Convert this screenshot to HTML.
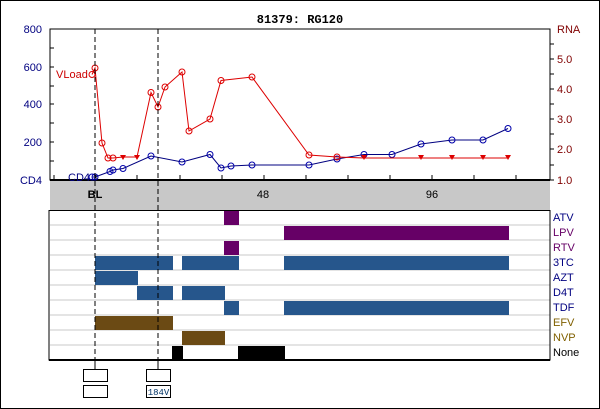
<!DOCTYPE html><html><head><style>body{margin:0;background:#fff}svg{display:block}</style></head><body>
<svg width="600" height="409" viewBox="0 0 600 409" xmlns="http://www.w3.org/2000/svg" font-family="Liberation Sans, sans-serif" font-size="11">
<rect x="0.5" y="0.5" width="599" height="408" fill="#fff" stroke="#000"/>
<text x="300" y="23" text-anchor="middle" font-family="Liberation Mono, monospace" font-weight="bold" font-size="12">81379: RG120</text>
<rect x="50" y="29" width="500" height="151" fill="#fff" stroke="#000"/>
<rect x="50" y="181" width="500" height="29" fill="#c8c8c8"/>
<line x1="50" y1="180" x2="550" y2="180" stroke="#000" stroke-width="2"/>
<g stroke="#000">
<line x1="54" y1="180" x2="54" y2="175"/><line x1="96" y1="180" x2="96" y2="175"/><line x1="137" y1="180" x2="137" y2="175"/><line x1="180" y1="180" x2="180" y2="175"/><line x1="222" y1="180" x2="222" y2="175"/><line x1="264" y1="180" x2="264" y2="175"/><line x1="306" y1="180" x2="306" y2="175"/><line x1="348" y1="180" x2="348" y2="175"/><line x1="390" y1="180" x2="390" y2="175"/><line x1="432" y1="180" x2="432" y2="175"/><line x1="474" y1="180" x2="474" y2="175"/><line x1="516" y1="180" x2="516" y2="175"/>
<line x1="50" y1="48" x2="54" y2="48"/><line x1="50" y1="67" x2="54" y2="67"/><line x1="50" y1="86" x2="54" y2="86"/><line x1="50" y1="104" x2="54" y2="104"/><line x1="50" y1="123" x2="54" y2="123"/><line x1="50" y1="142" x2="54" y2="142"/><line x1="50" y1="161" x2="54" y2="161"/>
<line x1="550" y1="44" x2="554" y2="44"/><line x1="550" y1="59" x2="554" y2="59"/><line x1="550" y1="74" x2="554" y2="74"/><line x1="550" y1="89" x2="554" y2="89"/><line x1="550" y1="104" x2="554" y2="104"/><line x1="550" y1="119" x2="554" y2="119"/><line x1="550" y1="134" x2="554" y2="134"/><line x1="550" y1="149" x2="554" y2="149"/><line x1="550" y1="165" x2="554" y2="165"/><line x1="550" y1="180" x2="554" y2="180"/>
</g>
<g fill="#000080" text-anchor="end">
<text x="42" y="33">800</text><text x="42" y="71">600</text><text x="42" y="108">400</text><text x="42" y="146">200</text><text x="42" y="184">CD4</text>
</g>
<g fill="#800000">
<text x="557" y="33">RNA</text><text x="557" y="63">5.0</text><text x="557" y="93">4.0</text><text x="557" y="123">3.0</text><text x="557" y="153">2.0</text><text x="557" y="184">1.0</text>
</g>
<text x="95" y="198" text-anchor="middle" font-weight="bold">BL</text>
<text x="263" y="198" text-anchor="middle">48</text>
<text x="432" y="198" text-anchor="middle">96</text>
<text x="56" y="78" fill="#cc0000" font-size="11">VLoad</text>
<text x="68" y="181" fill="#000080" font-size="11">CD4</text>
<polyline fill="none" stroke="#000080" points="92,177 95,177 110,171.5 113,170 123,168.5 151,156 182,162 210,154.5 221,168 231,166 252,165 309,165 337,159 364,154.5 392,154.5 421,144 452,140 483,140 508,128.5"/>
<g fill="none" stroke="#0000aa">
<circle cx="92" cy="177" r="3"/><circle cx="95" cy="177" r="3"/><circle cx="110" cy="171.5" r="3"/><circle cx="113" cy="170" r="3"/><circle cx="123" cy="168.5" r="3"/><circle cx="151" cy="156" r="3"/><circle cx="182" cy="162" r="3"/><circle cx="210" cy="154.5" r="3"/><circle cx="221" cy="168" r="3"/><circle cx="231" cy="166" r="3"/><circle cx="252" cy="165" r="3"/><circle cx="309" cy="165" r="3"/><circle cx="337" cy="159" r="3"/><circle cx="364" cy="154.5" r="3"/><circle cx="392" cy="154.5" r="3"/><circle cx="421" cy="144" r="3"/><circle cx="452" cy="140" r="3"/><circle cx="483" cy="140" r="3"/><circle cx="508" cy="128.5" r="3"/>
</g>
<polyline fill="none" stroke="#dd0000" points="92,74.5 95,68 102,143 108,158 113,158 123,157 137,157 151,92.5 158,107 165,87 182,72 189,131 210,119 221,80.5 252,77 309,155 337,157 364,158 421,158 452,158 483,158 508,158"/>
<g fill="none" stroke="#dd0000">
<circle cx="92" cy="74.5" r="3"/><circle cx="95" cy="68" r="3"/><circle cx="102" cy="143" r="3"/><circle cx="108" cy="158" r="3"/><circle cx="113" cy="158" r="3"/><circle cx="151" cy="92.5" r="3"/><circle cx="158" cy="107" r="3"/><circle cx="165" cy="87" r="3"/><circle cx="182" cy="72" r="3"/><circle cx="189" cy="131" r="3"/><circle cx="210" cy="119" r="3"/><circle cx="221" cy="80.5" r="3"/><circle cx="252" cy="77" r="3"/><circle cx="309" cy="155" r="3"/><circle cx="337" cy="157" r="3"/>
</g>
<g fill="#dd0000">
<path d="M120,155h6l-3,5z"/><path d="M134,155h6l-3,5z"/><path d="M361,155h6l-3,5z"/><path d="M418,155h6l-3,5z"/><path d="M449,155h6l-3,5z"/><path d="M480,155h6l-3,5z"/><path d="M505,155h6l-3,5z"/>
</g>
<g stroke="#c8c8c8">
<line x1="50" y1="225" x2="550" y2="225"/><line x1="50" y1="240" x2="550" y2="240"/><line x1="50" y1="255" x2="550" y2="255"/><line x1="50" y1="270" x2="550" y2="270"/><line x1="50" y1="285" x2="550" y2="285"/><line x1="50" y1="300" x2="550" y2="300"/><line x1="50" y1="315" x2="550" y2="315"/><line x1="50" y1="330" x2="550" y2="330"/><line x1="50" y1="345" x2="550" y2="345"/>
</g>
<g fill="#660066"><rect x="224" y="211" width="15" height="14"/><rect x="284" y="226" width="225" height="14"/><rect x="224" y="241" width="15" height="14"/></g>
<g fill="#26568c">
<rect x="95" y="256" width="78" height="14"/><rect x="182" y="256" width="57" height="14"/><rect x="284" y="256" width="225" height="14"/>
<rect x="95" y="271" width="43" height="14"/>
<rect x="137" y="286" width="36" height="14"/><rect x="182" y="286" width="43" height="14"/>
<rect x="224" y="301" width="15" height="14"/><rect x="284" y="301" width="225" height="14"/>
</g>
<g fill="#6b4a14"><rect x="95" y="316" width="78" height="14"/><rect x="182" y="331" width="43" height="14"/></g>
<g fill="#000"><rect x="172" y="346" width="11" height="14"/><rect x="238" y="346" width="47" height="14"/></g>
<path d="M49,210V360H550V210" fill="none" stroke="#000" stroke-width="1"/>
<line x1="49" y1="210.5" x2="550" y2="210.5" stroke="#000"/>
<line x1="49" y1="360" x2="550" y2="360" stroke="#000" stroke-width="2"/>
<g fill="#000080">
<text x="553" y="221">ATV</text><text x="553" y="236" fill="#660066">LPV</text><text x="553" y="251" fill="#660066">RTV</text><text x="553" y="266">3TC</text><text x="553" y="281">AZT</text><text x="553" y="296">D4T</text><text x="553" y="311">TDF</text><text x="553" y="326" fill="#806000">EFV</text><text x="553" y="341" fill="#806000">NVP</text><text x="553" y="356" fill="#000">None</text>
</g>
<g stroke="#000" stroke-dasharray="5,3">
<line x1="95" y1="29" x2="95" y2="360"/><line x1="158" y1="29" x2="158" y2="360"/>
</g>
<g stroke="#000"><line x1="95" y1="360" x2="95" y2="369"/><line x1="158" y1="360" x2="158" y2="369"/></g>
<g fill="#fff" stroke="#000">
<rect x="83.5" y="369.5" width="24" height="12"/><rect x="83.5" y="385.5" width="24" height="12"/>
<rect x="146.5" y="369.5" width="24" height="12"/><rect x="146.5" y="385.5" width="24" height="12"/>
</g>
<text x="158.5" y="395" text-anchor="middle" font-family="Liberation Mono, monospace" font-size="9" fill="#003366">184V</text>
</svg>
</body></html>
